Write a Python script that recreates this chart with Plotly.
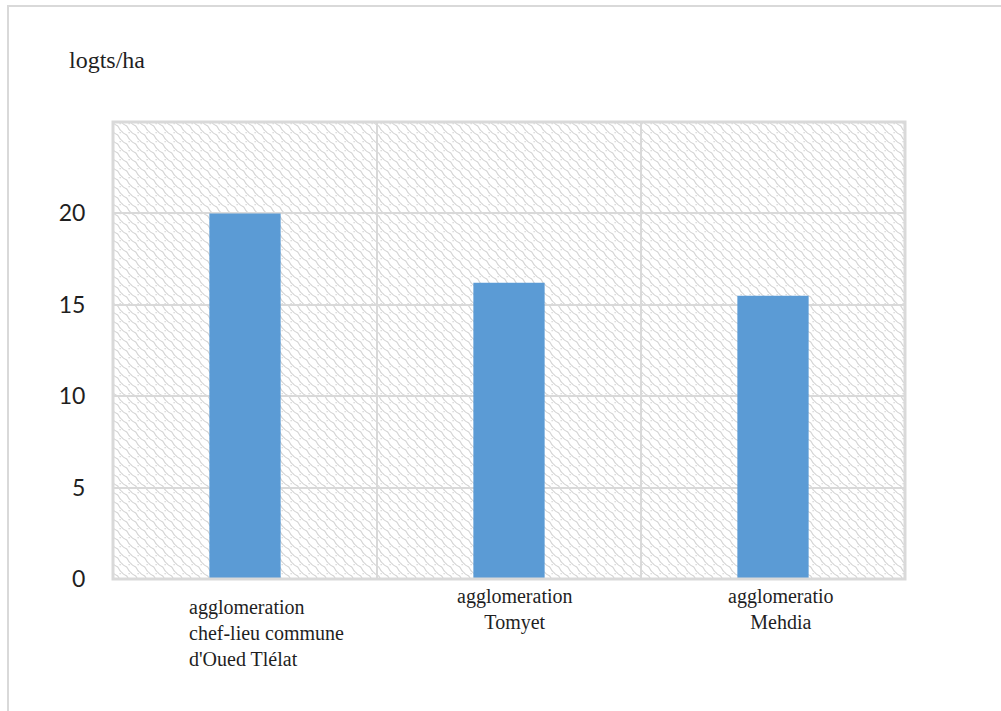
import base64
import plotly.graph_objects as go

# Housing density by agglomeration (dwellings per hectare)
categories = [
    "agglomeration<br>chef-lieu commune<br>d'Oued Tlélat",
    "agglomeration<br>Tomyet",
    "agglomeratio<br>Mehdia",
]
values = [20, 16.2, 15.5]
y_ticks = [0, 5, 10, 15, 20]
y_title = "logts/ha"

positions = list(range(len(categories)))

GRID = "#d9d9d9"
TEXT = "#1f1f1f"
BAR = "#5b9bd5"

# Wavy diagonal hatch for the plot background
hatch_svg = """<svg xmlns='http://www.w3.org/2000/svg' width='792' height='457' viewBox='0 0 792 457' preserveAspectRatio='none'>
<defs>
<pattern id='w' patternUnits='userSpaceOnUse' width='9' height='9'>
<path d='M-2,-2 Q1,2.5 3,3 T6,6 T11,11' fill='none' stroke='#d4d4d4' stroke-width='1.1'/>
<path d='M-2,7 Q1,11.5 3,12 T6,15' fill='none' stroke='#d4d4d4' stroke-width='1.1'/>
<path d='M7,-2 Q10,2.5 12,3' fill='none' stroke='#d4d4d4' stroke-width='1.1'/>
<rect x='6.5' y='1' width='1.3' height='1.3' fill='#d6d6d6'/>
</pattern>
</defs>
<rect width='792' height='457' fill='white'/>
<rect width='792' height='457' fill='url(#w)'/>
</svg>"""
hatch_uri = "data:image/svg+xml;base64," + base64.b64encode(hatch_svg.encode()).decode()

fig = go.Figure()
fig.add_trace(go.Bar(
    x=positions,
    y=values,
    width=0.27,
    marker=dict(color=BAR, line=dict(width=0)),
    hoverinfo="skip",
))

# Category labels under each bar
label_cfg = [
    dict(align="left", xanchor="left", xshift=-58, yshift=-15),
    dict(align="center", xanchor="center", xshift=6, yshift=-4),
    dict(align="center", xanchor="center", xshift=8, yshift=-4),
]
for pos, text, cfg in zip(positions, categories, label_cfg):
    fig.add_annotation(
        x=pos, y=0, xref="x", yref="y",
        text=text, showarrow=False,
        yanchor="top", align=cfg["align"], xanchor=cfg["xanchor"],
        xshift=cfg["xshift"], yshift=cfg["yshift"],
        font=dict(family="Liberation Serif", size=20, color=TEXT),
    )

# Axis unit label
fig.add_annotation(
    x=-0.058, y=1.136, xref="paper", yref="paper",
    text=y_title, showarrow=False, xanchor="left", yanchor="middle",
    font=dict(family="Liberation Serif", size=24, color=TEXT),
)

# Outer frame (left and top edges)
fig.add_shape(
    type="path", xref="paper", yref="paper",
    path="M -0.1326,-0.30 L -0.1326,1.2538 L 1.13,1.2538",
    line=dict(color=GRID, width=2),
)

# Plot-area frame
fig.add_shape(
    type="rect", xref="paper", yref="paper", x0=0, x1=1, y0=0, y1=1,
    line=dict(color=GRID, width=3), layer="above",
)

fig.add_layout_image(
    source=hatch_uri, xref="paper", yref="paper",
    x=0, y=1, sizex=1, sizey=1, sizing="stretch",
    xanchor="left", yanchor="top", layer="below",
)

fig.update_layout(
    width=1001, height=711,
    margin=dict(l=113, r=96, t=122, b=132),
    paper_bgcolor="white",
    plot_bgcolor="rgba(0,0,0,0)",
    showlegend=False,
    xaxis=dict(
        range=[-0.5, 2.5], tick0=0.5, dtick=1,
        showticklabels=False, showgrid=True, gridcolor=GRID, gridwidth=2,
        zeroline=False, showline=False, fixedrange=True,
    ),
    yaxis=dict(
        range=[0, 25], tickvals=y_ticks, ticktext=[str(v) for v in y_ticks],
        showgrid=True, gridcolor=GRID, gridwidth=2,
        zeroline=False, showline=False,
        ticks="outside", ticklen=22, tickcolor="rgba(0,0,0,0)",
        tickfont=dict(family="Lato", size=23, color=TEXT),
    ),
)

fig.write_html("out.html")
